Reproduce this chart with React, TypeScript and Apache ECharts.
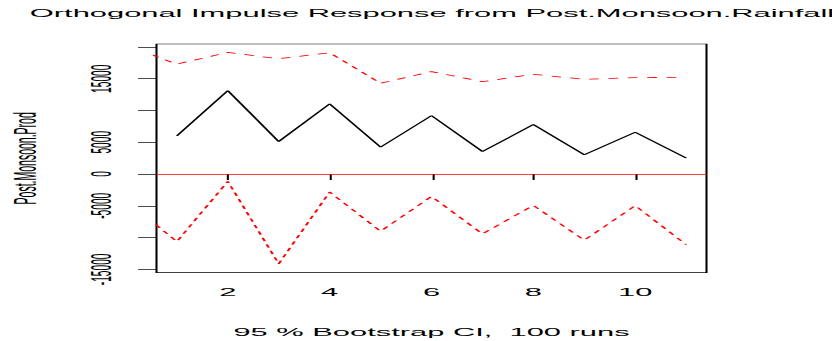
import React, { useEffect, useRef } from "react";
import * as echarts from "echarts";

// ---- data ----
const lags: number[] = [1, 2, 3, 4, 5, 6, 7, 8, 9, 10, 11];
const irfValues: number[] = [6010, 13120, 5120, 11040, 4240, 9200, 3550, 7790, 3030, 6590, 2510];
const ciLags: number[] = [0, 1, 2, 3, 4, 5, 6, 7, 8, 9, 10, 11];
const upperValues: number[] = [20300, 17300, 19150, 18150, 19090, 14290, 16130, 14540, 15700, 14910, 15170, 15230];
const lowerValues: number[] = [-4150, -10630, -1160, -14130, -2830, -9010, -3520, -9420, -4930, -10420, -4980, -11100];
const xTickValues: number[] = [2, 4, 6, 8, 10];
const yTickValues: number[] = [-15000, -10000, -5000, 0, 5000, 10000, 15000, 20000];
const yLabelValues: number[] = [-15000, -5000, 0, 5000, 15000];

const titleText = "Orthogonal Impulse Response from Post.Monsoon.Rainfall";
const xName = "95 % Bootstrap CI,  100 runs";
const yName = "Post.Monsoon.Prod";

// horizontal stretch of the original picture
const K = 2.94;
const W = 833 / K;
const H = 341;
const FONT = "'Liberation Sans', Arial, Helvetica, sans-serif";

export default function App() {
  const ref = useRef<HTMLDivElement | null>(null);

  useEffect(() => {
    document.body.style.margin = "0";
    if (!ref.current) return;
    const chart = echarts.init(ref.current, undefined, { renderer: "svg", width: W, height: H });
    const option: any = {
      animation: false,
      backgroundColor: "#fff",
      title: {
        text: titleText,
        left: 432 / K,
        textAlign: "center",
        top: 8,
        padding: 0,
        textStyle: { fontFamily: FONT, fontSize: 10.5, fontWeight: "normal", color: "#000" },
      },
      grid: {
        left: 156.5 / K,
        right: (833 - 706.5) / K,
        top: 44,
        bottom: H - 272.7,
        containLabel: false,
        outerBoundsMode: "none",
        show: true,
        borderColor: "#000",
        borderWidth: 0.7,
        backgroundColor: "transparent",
      },
      xAxis: {
        type: "value",
        min: 0.6,
        max: 11.4,
        splitLine: { show: false },
        axisLine: { show: false },
        axisTick: {
          show: true,
          customValues: xTickValues,
          length: 6,
          lineStyle: { color: "#000", width: 0.7 },
        },
        axisLabel: {
          customValues: xTickValues,
          fontFamily: FONT,
          fontSize: 10.5,
          color: "#000",
          margin: 14,
          formatter: (v: number) => String(v),
        },
        name: xName,
        nameLocation: "middle",
        nameGap: 54,
        nameTextStyle: { fontFamily: FONT, fontSize: 10.5, color: "#000" },
      },
      yAxis: {
        type: "value",
        min: -15530,
        max: 20470,
        splitLine: { show: false },
        axisLine: { show: false },
        axisTick: {
          show: true,
          customValues: yTickValues,
          length: 18.4 / K,
          lineStyle: { color: "#000", width: 0.7 },
        },
        axisLabel: {
          customValues: yLabelValues,
          rotate: 90,
          fontFamily: FONT,
          fontSize: 10.2,
          color: "#000",
          margin: 14,
          formatter: (v: number) => String(v),
        },
        name: yName,
        nameLocation: "middle",
        nameRotate: 90,
        nameGap: 39,
        nameTextStyle: { fontFamily: FONT, fontSize: 10.5, color: "#000" },
      },
      series: [
        {
          name: "irf",
          type: "line",
          data: lags.map((x, i) => [x, irfValues[i]]),
          symbol: "none",
          lineStyle: { color: "#000", width: 0.8 },
          markLine: {
            silent: true,
            symbol: "none",
            label: { show: false },
            lineStyle: { color: "#ff0000", width: 0.75, type: "solid" },
            data: [{ yAxis: 0 }],
          },
        },
        {
          name: "upper",
          type: "line",
          data: ciLags.map((x, i) => [x, upperValues[i]]),
          symbol: "none",
          lineStyle: { color: "#ff0000", width: 0.8, type: [3.3, 3.3] },
        },
        {
          name: "lower",
          type: "line",
          data: ciLags.map((x, i) => [x, lowerValues[i]]),
          symbol: "none",
          lineStyle: { color: "#ff0000", width: 0.8, type: [3.3, 3.3] },
        },
      ],
    };
    chart.setOption(option);
    return () => chart.dispose();
  }, []);

  return (
    <div style={{ position: "absolute", left: 0, top: 0, width: 833, height: H, overflow: "hidden", background: "#fff" }}>
      <div
        ref={ref}
        style={{ width: W, height: H, transform: `scaleX(${K})`, transformOrigin: "0 0" }}
      />
    </div>
  );
}
